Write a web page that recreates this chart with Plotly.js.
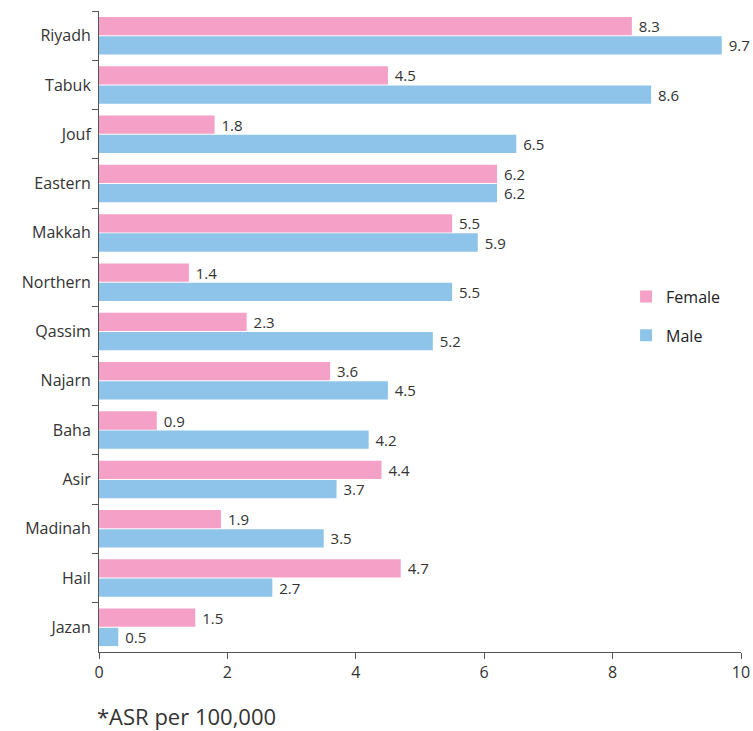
<!DOCTYPE html>
<html>
<head>
<meta charset="utf-8">
<script src="https://cdn.plot.ly/plotly-3.0.1.min.js"></script>
<style>html,body{margin:0;padding:0;background:#fff;}#chart{width:753px;height:731px;}</style>
</head>
<body>
<div id="chart"></div>
<script>
const regions = ["Riyadh","Tabuk","Jouf","Eastern","Makkah","Northern","Qassim","Najarn","Baha","Asir","Madinah","Hail","Jazan"];
const femaleValues = [8.3,4.5,1.8,6.2,5.5,1.4,2.3,3.6,0.9,4.4,1.9,4.7,1.5];
const maleValues = [9.7,8.6,6.5,6.2,5.9,5.5,5.2,4.5,4.2,3.7,3.5,2.7,0.3];
const femaleLabels = ["8.3","4.5","1.8","6.2","5.5","1.4","2.3","3.6","0.9","4.4","1.9","4.7","1.5"];
const maleLabels = ["9.7","8.6","6.5","6.2","5.9","5.5","5.2","4.5","4.2","3.7","3.5","2.7","0.5"];
const xTicks = [0,2,4,6,8,10];

const FONT = "Open Sans, Lato, sans-serif";
const traces = [
  {type:'bar', orientation:'h', name:'Female', y:regions, x:femaleValues,
   text:femaleLabels.map(t=>' '+t), textposition:'outside', cliponaxis:false, constraintext:'none',
   marker:{color:'#F4A0C7'}, legendgroup:'f',
   textfont:{size:15, color:'#333', family:FONT}, hoverinfo:'x+y'},
  {type:'bar', orientation:'h', name:'Male', y:regions, x:maleValues,
   text:maleLabels.map(t=>' '+t), textposition:'outside', cliponaxis:false, constraintext:'none',
   marker:{color:'#8EC4EA'}, legendgroup:'m',
   textfont:{size:15, color:'#333', family:FONT}, hoverinfo:'x+y'}
];
const layout = {
  width:753, height:731,
  margin:{l:99, r:12, t:11, b:79, pad:0},
  paper_bgcolor:'#fff', plot_bgcolor:'#fff',
  font:{family:FONT, color:'#333', size:16},
  barmode:'group', bargap:0.22, bargroupgap:0.05,
  showlegend:true,
  legend:{x:0.821, y:0.581, xanchor:'left', yanchor:'top', traceorder:'grouped', tracegroupgap:15,
          font:{size:16, color:'#222', family:FONT}, itemwidth:30, bgcolor:'rgba(0,0,0,0)'},
  xaxis:{range:[0,10], tickvals:xTicks, ticktext:xTicks.map(String), showgrid:false, zeroline:false,
         showline:true, linecolor:'#555', linewidth:1, ticks:'outside', ticklen:6, tickcolor:'#555',
         tickfont:{size:16, color:'#333', family:FONT}, fixedrange:true},
  yaxis:{type:'category', autorange:'reversed', showgrid:false, zeroline:false,
         showline:true, linecolor:'#555', linewidth:1, ticks:'outside', ticklen:6, tickcolor:'#555',
         tickson:'boundaries', ticklabelstandoff:4,
         tickfont:{size:16, color:'#333', family:FONT}, fixedrange:true},
  annotations:[{text:'*ASR per 100,000', xref:'paper', yref:'paper', x:-0.006, y:-0.1, xanchor:'left', yanchor:'middle',
                showarrow:false, font:{size:22, color:'#333', family:FONT}}]
};
Plotly.newPlot('chart', traces, layout, {displayModeBar:false, staticPlot:true});
</script>
</body>
</html>
